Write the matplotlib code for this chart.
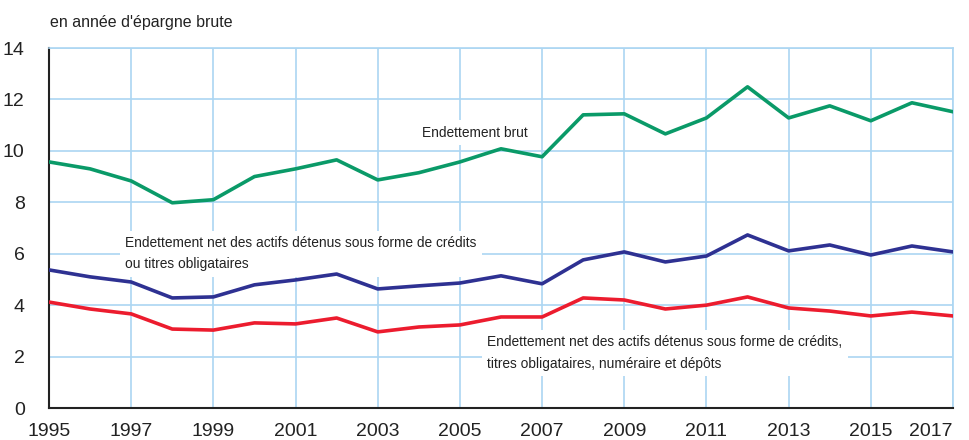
import matplotlib
matplotlib.use("Agg")
import matplotlib.pyplot as plt
from matplotlib import font_manager

# Police étroite si disponible, sinon police normale un peu plus petite
etroites = [f.name for f in font_manager.fontManager.ttflist
            if 'Narrow' in f.fname or 'Condensed' in f.name]
if "Liberation Sans Narrow" in etroites:
    police, taille = "Liberation Sans Narrow", 12
else:
    police, taille = "Liberation Sans", 9.9
plt.rcParams['font.family'] = [police, 'DejaVu Sans']

annees = list(range(1995, 2018))
brut = [9.57, 9.3, 8.83, 7.98, 8.1, 9.0, 9.3, 9.65, 8.87, 9.15, 9.57, 10.08,
        9.77, 11.4, 11.44, 10.66, 11.28, 12.49, 11.28, 11.75, 11.17, 11.87, 11.52]
net_credits = [5.37, 5.1, 4.9, 4.28, 4.32, 4.79, 4.98, 5.21, 4.63, 4.75, 4.86, 5.14,
               4.83, 5.76, 6.07, 5.68, 5.91, 6.73, 6.11, 6.34, 5.95, 6.3, 6.07]
net_depots = [4.12, 3.85, 3.66, 3.07, 3.03, 3.31, 3.27, 3.5, 2.96, 3.15, 3.23, 3.54,
              3.54, 4.28, 4.2, 3.85, 4.0, 4.32, 3.89, 3.77, 3.58, 3.73, 3.58]
ticks_x = list(range(1995, 2018, 2))
ticks_y = list(range(0, 15, 2))

grille = '#acd6f2'
encre = '#222222'

fig = plt.figure(figsize=(9.69, 4.40), dpi=100)
ax = fig.add_axes([49/969, 1 - 408/440, (953-49)/969, (408-48)/440])
ax.set_axisbelow(True)

ax.plot(annees, brut, color='#0a9a68', lw=2.6, zorder=3)
ax.plot(annees, net_credits, color='#2e3192', lw=2.6, zorder=3)
ax.plot(annees, net_depots, color='#ec1c2e', lw=2.6, zorder=3)

ax.set_xlim(1995, 2017)
ax.set_ylim(0, 14)
ax.set_xticks(ticks_x)
ax.set_yticks(ticks_y)
ax.grid(True, color=grille, lw=1.2)
ax.tick_params(length=0, labelsize=14, colors=encre)
ax.tick_params(axis='x', pad=10.5)
ax.tick_params(axis='y', pad=17.5)
# le dernier libellé (2017) reste dans l'image
ax.get_xticklabels()[-1].set_horizontalalignment('right')
for s in ['top', 'right']:
    ax.spines[s].set_color(grille)
    ax.spines[s].set_linewidth(1.2)
for s in ['left', 'bottom']:
    ax.spines[s].set_color(encre)
    ax.spines[s].set_linewidth(1.5)

# les boîtes blanches masquent la grille mais pas les courbes
boite = dict(facecolor='white', edgecolor='none', pad=4)
ax.text(2004.08, 10.7, "Endettement brut", fontsize=taille, color=encre,
        va='center', ha='left', bbox=boite, zorder=2)
ax.text(1996.85, 6.68, "Endettement net des actifs détenus sous forme de crédits\nou titres obligataires",
        fontsize=taille, color=encre, va='top', ha='left', bbox=boite, zorder=2, linespacing=1.65)
ax.text(2005.66, 2.82, "Endettement net des actifs détenus sous forme de crédits,\ntitres obligataires, numéraire et dépôts",
        fontsize=taille, color=encre, va='top', ha='left', bbox=boite, zorder=2, linespacing=1.65)

fig.text(50/969, 1 - 22/440, "en année d'épargne brute", fontsize=11.5, color=encre,
         va='center', ha='left')

fig.savefig("out.png", dpi=100)
